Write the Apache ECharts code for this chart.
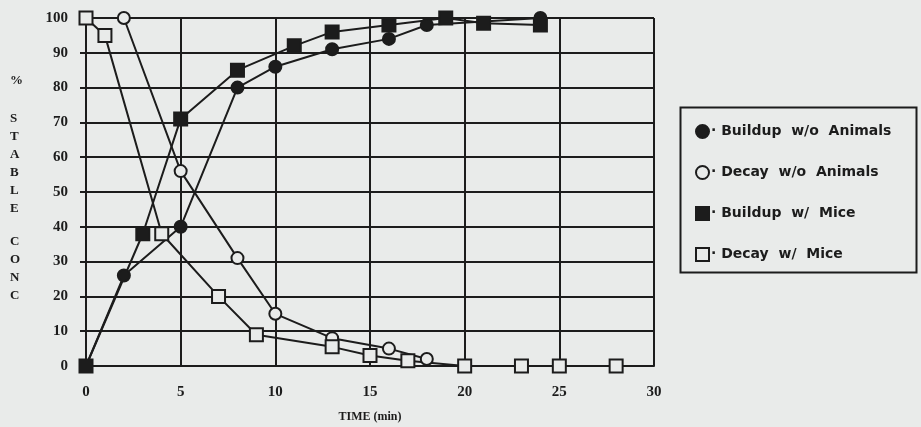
<!DOCTYPE html>
<html>
<head>
<meta charset="utf-8">
<script src="https://cdn.jsdelivr.net/npm/echarts@6/dist/echarts.min.js"></script>
<style>
  html, body { margin: 0; padding: 0; background: #e9ebea; }
  #chart { width: 921px; height: 427px; }
</style>
</head>
<body>
<div id="chart"></div>
<script>
// time (min) and % stable concentration
const buildupNoAnimalsTime = [0, 2, 5, 8, 10, 13, 16, 18, 24]
const buildupNoAnimals = [0, 26, 40, 80, 86, 91, 94, 98, 100]

const decayNoAnimalsTime = [2, 5, 8, 10, 13, 16, 18]
const decayNoAnimals = [100, 56, 31, 15, 8, 5, 2]

const buildupMiceTime = [0, 3, 5, 8, 11, 13, 16, 19, 21, 24]
const buildupMice = [0, 38, 71, 85, 92, 96, 98, 100, 98.5, 98]

const decayMiceTime = [0, 1, 4, 7, 9, 13, 15, 17, 20, 23, 25, 28]
const decayMice = [100, 95, 38, 20, 9, 5.5, 3, 1.5, 0, 0, 0, 0]

const xTicks = [0, 5, 10, 15, 20, 25, 30]
const yTicks = [0, 10, 20, 30, 40, 50, 60, 70, 80, 90, 100]

const seriesNames = [
  'Buildup  w/o  Animals',
  'Decay  w/o  Animals',
  'Buildup  w/  Mice',
  'Decay  w/  Mice',
]

const BG = '#e9ebea'
const INK = '#1c1c1c'
const serif = '"Liberation Serif", "DejaVu Serif", serif'

const pairs = (xs, ys) => xs.map((x, i) => [x, ys[i]])

function makeSeries(name, data, symbol, filled) {
  return {
    name,
    type: 'line',
    data,
    symbol,
    symbolSize: symbol === 'circle' ? 12 : 13,
    lineStyle: { color: INK, width: 2 },
    itemStyle: {
      color: filled ? INK : BG,
      borderColor: INK,
      borderWidth: 2,
    },
    emphasis: { disabled: true },
    animation: false,
  }
}

const chart = echarts.init(document.getElementById('chart'), null, { renderer: 'canvas' })

chart.setOption({
  backgroundColor: BG,
  animation: false,
  grid: { left: 86, right: 267, top: 18, bottom: 61, outerBoundsMode: 'none' },
  xAxis: {
    type: 'value',
    min: 0,
    max: 30,
    interval: 5,
    name: 'TIME (min)',
    nameLocation: 'middle',
    nameGap: 45,
    nameTextStyle: { fontFamily: serif, fontSize: 12, fontWeight: 'bold', color: INK },
    axisLine: { lineStyle: { color: INK, width: 2 } },
    axisTick: { show: false },
    axisLabel: {
      margin: 19,
      fontFamily: serif,
      fontSize: 15,
      fontWeight: 'bold',
      color: INK,
      formatter: v => (xTicks.includes(v) ? String(v) : ''),
    },
    splitLine: { show: true, lineStyle: { color: INK, width: 2 } },
  },
  yAxis: {
    type: 'value',
    min: 0,
    max: 100,
    interval: 10,
    axisLine: { show: true, lineStyle: { color: INK, width: 2 } },
    axisTick: { show: true, length: 6, lineStyle: { color: INK, width: 2 } },
    axisLabel: {
      margin: 18,
      fontFamily: serif,
      fontSize: 15,
      fontWeight: 'bold',
      color: INK,
      formatter: v => (yTicks.includes(v) ? String(v) : ''),
    },
    splitLine: { show: true, lineStyle: { color: INK, width: 2 } },
  },
  legend: {
    orient: 'vertical',
    left: 690,
    top: 119,
    itemGap: 26,
    itemWidth: 13,
    itemHeight: 13,
    selectedMode: false,
    formatter: name => '· ' + name,
    textStyle: {
      fontFamily: '"DejaVu Sans", "Liberation Sans", sans-serif',
      fontSize: 14,
      fontWeight: 'bold',
      color: INK,
      padding: [0, 0, 0, -3],
    },
    data: [
      { name: seriesNames[0], icon: 'circle' },
      { name: seriesNames[1], icon: 'circle' },
      { name: seriesNames[2], icon: 'rect' },
      { name: seriesNames[3], icon: 'rect' },
    ],
  },
  graphic: [
    {
      type: 'rect',
      left: 678,
      top: 105,
      shape: { width: 236, height: 165 },
      style: { fill: 'none', stroke: INK, lineWidth: 2 },
      silent: true,
    },
    {
      type: 'text',
      left: 10,
      top: 74,
      style: { text: '%', font: 'bold 13px ' + serif, fill: INK },
    },
    {
      type: 'text',
      left: 10,
      top: 110,
      style: {
        text: 'S\nT\nA\nB\nL\nE',
        font: 'bold 13px ' + serif,
        lineHeight: 18,
        fill: INK,
        align: 'left',
      },
    },
    {
      type: 'text',
      left: 10,
      top: 233,
      style: {
        text: 'C\nO\nN\nC',
        font: 'bold 13px ' + serif,
        lineHeight: 18,
        fill: INK,
        align: 'left',
      },
    },
  ],
  series: [
    makeSeries(seriesNames[0], pairs(buildupNoAnimalsTime, buildupNoAnimals), 'circle', true),
    makeSeries(seriesNames[1], pairs(decayNoAnimalsTime, decayNoAnimals), 'circle', false),
    makeSeries(seriesNames[2], pairs(buildupMiceTime, buildupMice), 'rect', true),
    makeSeries(seriesNames[3], pairs(decayMiceTime, decayMice), 'rect', false),
  ],
})
</script>
</body>
</html>
